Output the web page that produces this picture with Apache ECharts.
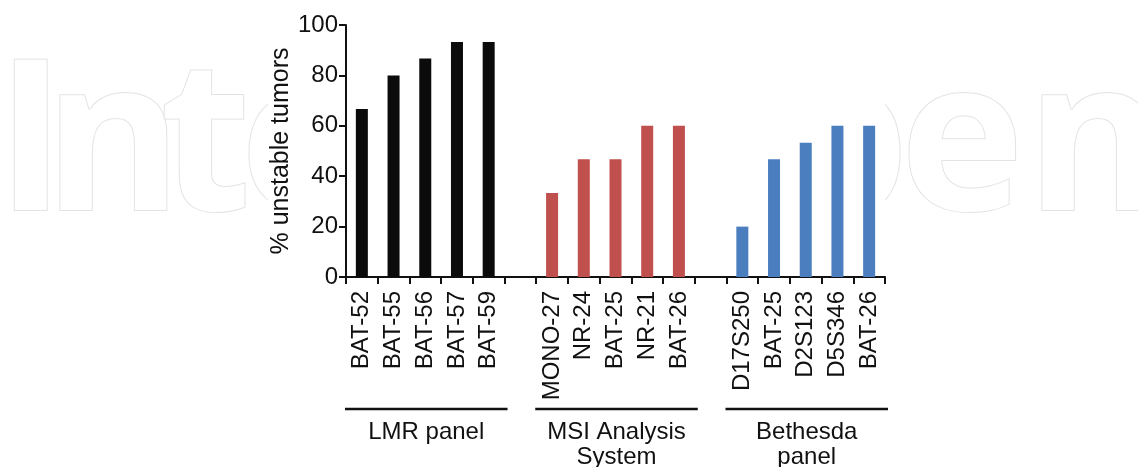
<!DOCTYPE html>
<html>
<head>
<meta charset="utf-8">
<script src="https://cdn.jsdelivr.net/npm/echarts@6/dist/echarts.min.js"></script>
<style>
  html, body { margin: 0; padding: 0; background: #fff; }
  #chart { width: 1138px; height: 467px; }
</style>
</head>
<body>
<div id="chart"></div>
<script>
// ---- data ----
const lmrMarkers = ['BAT-52', 'BAT-55', 'BAT-56', 'BAT-57', 'BAT-59'];
const lmrValues = [66.7, 80, 86.7, 93.3, 93.3];
const msiMarkers = ['MONO-27', 'NR-24', 'BAT-25', 'NR-21', 'BAT-26'];
const msiValues = [33.3, 46.7, 46.7, 60, 60];
const bethesdaMarkers = ['D17S250', 'BAT-25', 'D2S123', 'D5S346', 'BAT-26'];
const bethesdaValues = [20, 46.7, 53.3, 60, 60];
const panelNames = ['LMR panel', 'MSI Analysis\nSystem', 'Bethesda\npanel'];
const yTitle = '% unstable tumors';
const yMin = 0, yMax = 100, yStep = 20;
const watermarkLetters = ['I', 'n', 't', 'e', 'p', 'e', 'n'];

// ---- build ----
const groups = [
  { markers: lmrMarkers, values: lmrValues, color: '#0b0b0b' },
  { markers: msiMarkers, values: msiValues, color: '#c0504d' },
  { markers: bethesdaMarkers, values: bethesdaValues, color: '#4a7ebf' }
];
const categories = [];
const ranges = [];
groups.forEach((g, gi) => {
  if (gi > 0) categories.push('');
  const start = categories.length;
  g.markers.forEach(m => categories.push(m));
  ranges.push([start, categories.length - 1]);
});
const series = groups.map((g, gi) => {
  const data = categories.map(() => '-');
  g.values.forEach((v, i) => { data[ranges[gi][0] + i] = v; });
  return {
    type: 'bar', data: data, barWidth: 12, barGap: '-100%',
    itemStyle: { color: g.color }, silent: true, z: 3
  };
});

const FONT = '"Liberation Sans", Arial, Helvetica, sans-serif';
const chart = echarts.init(document.getElementById('chart'), null, { renderer: 'canvas' });
const option = {
  animation: false,
  backgroundColor: '#ffffff',
  grid: { left: 346, right: 253, top: 25, bottom: 190, containLabel: false },
  xAxis: {
    type: 'category', data: categories,
    axisLine: { lineStyle: { color: '#111', width: 2 } },
    axisTick: { show: true, alignWithLabel: false, interval: 0, length: 7, lineStyle: { color: '#111', width: 2 } },
    axisLabel: { interval: 0, rotate: 90, margin: 14, color: '#111', fontSize: 24, fontFamily: FONT }
  },
  yAxis: {
    type: 'value', min: yMin, max: yMax, interval: yStep,
    name: yTitle, nameLocation: 'middle', nameGap: 52,
    nameTextStyle: { fontSize: 25, color: '#111', fontFamily: FONT },
    axisLine: { show: true, lineStyle: { color: '#111', width: 2 } },
    axisTick: { show: true, length: 7, lineStyle: { color: '#111', width: 2 } },
    axisLabel: { margin: 8, color: '#111', fontSize: 24, fontFamily: FONT },
    splitLine: { show: false }
  },
  series: series
};
chart.setOption(option);

// group annotations via axis scale
const px = i => chart.convertToPixel({ xAxisIndex: 0 }, i);
const step = px(1) - px(0);
const lineY = 409;
const graphics = [];
// faint outlined watermark behind the chart, partly masked by the chart panel
const WM_FONT = 'bold 210px "Open Sans", sans-serif';
const wmX = [-4, 44, 160, 240, 776, 900, 1026];
watermarkLetters.forEach((ch, i) => {
  graphics.push({
    type: 'text', z: -100, silent: true,
    style: { text: ch, x: wmX[i], y: 150, verticalAlign: 'middle', align: 'left',
             font: WM_FONT, fill: '#ffffff', stroke: '#e3e3e3', lineWidth: 2 }
  });
});
graphics.push({
  type: 'rect', z: -99, silent: true,
  shape: { x: 268, y: 0, width: 617, height: 290 },
  style: { fill: '#ffffff' }
});
ranges.forEach((r, gi) => {
  const x0 = px(r[0]) - step / 2 - 1;
  const x1 = px(r[1]) + step / 2 + 3;
  graphics.push({
    type: 'line', silent: true,
    shape: { x1: x0, y1: lineY, x2: x1, y2: lineY },
    style: { stroke: '#111', lineWidth: 2.5 }
  });
  graphics.push({
    type: 'text', silent: true,
    style: { text: panelNames[gi], x: (x0 + x1) / 2, y: lineY + 11, align: 'center', verticalAlign: 'top',
             font: '24px ' + FONT, fill: '#111', lineHeight: 25 }
  });
});
chart.setOption({ graphic: { elements: graphics } });
</script>
</body>
</html>
